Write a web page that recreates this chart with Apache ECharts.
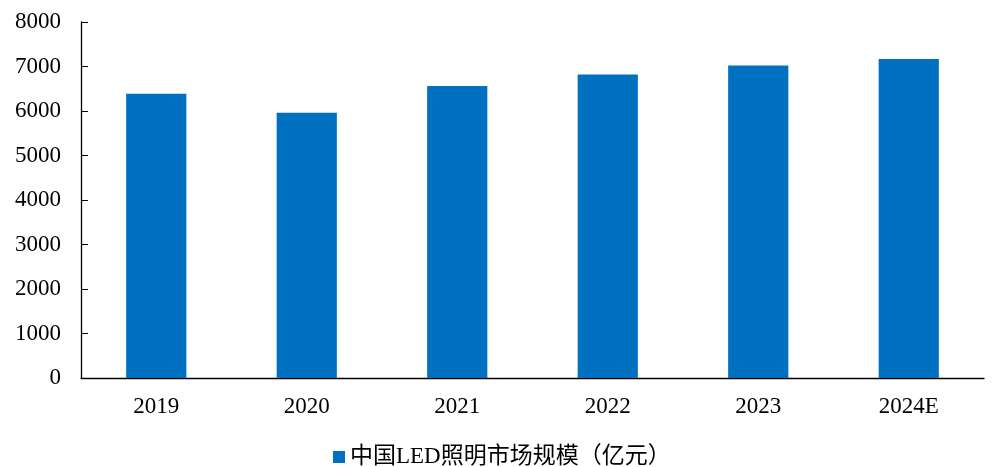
<!DOCTYPE html>
<html>
<head>
<meta charset="utf-8">
<script src="https://cdn.jsdelivr.net/npm/echarts@6/dist/echarts.min.js"></script>
<style>html,body{margin:0;padding:0;background:#fff;}#chart{width:992px;height:467px;}</style>
</head>
<body>
<div id="chart"></div>
<script>
const categories = ['2019', '2020', '2021', '2022', '2023', '2024E'];
const marketSize = [6390, 5960, 6560, 6820, 7020, 7170];
const seriesName = '中国LED照明市场规模（亿元）';
const yTicks = { min: 0, max: 8000, interval: 1000 };

const fontFamily = "'Liberation Serif', 'Times New Roman', 'Noto Sans CJK SC', serif";
const chart = echarts.init(document.getElementById('chart'), null, { renderer: 'canvas' });
chart.setOption({
  animation: false,
  backgroundColor: '#fff',
  textStyle: { fontFamily: fontFamily },
  grid: { left: 81, right: 8, top: 22, bottom: 89, containLabel: false },
  legend: {
    data: [seriesName],
    left: 333,
    top: 445,
    icon: 'rect',
    itemWidth: 12,
    itemHeight: 12,
    itemGap: 10,
    padding: 0,
    textStyle: { fontFamily: fontFamily, fontSize: 23, lineHeight: 24, color: '#000' }
  },
  xAxis: {
    type: 'category',
    data: categories,
    boundaryGap: true,
    axisLine: { lineStyle: { color: '#000', width: 1.3 } },
    axisTick: { inside: true, length: 7, alignWithLabel: false, lineStyle: { color: '#000' } },
    axisLabel: { color: '#000', fontSize: 23, margin: 17, fontFamily: fontFamily },
    splitLine: { show: false }
  },
  yAxis: {
    type: 'value',
    min: yTicks.min,
    max: yTicks.max,
    interval: yTicks.interval,
    axisLine: { show: true, lineStyle: { color: '#000', width: 1.3 } },
    axisTick: { show: true, inside: true, length: 7, lineStyle: { color: '#000' } },
    axisLabel: { color: '#000', fontSize: 23, margin: 20, fontFamily: fontFamily, formatter: function (v) { return String(v); } },
    splitLine: { show: false }
  },
  series: [{
    name: seriesName,
    type: 'bar',
    data: marketSize,
    barWidth: '40%',
    itemStyle: { color: '#0070C0' }
  }]
});
</script>
</body>
</html>
